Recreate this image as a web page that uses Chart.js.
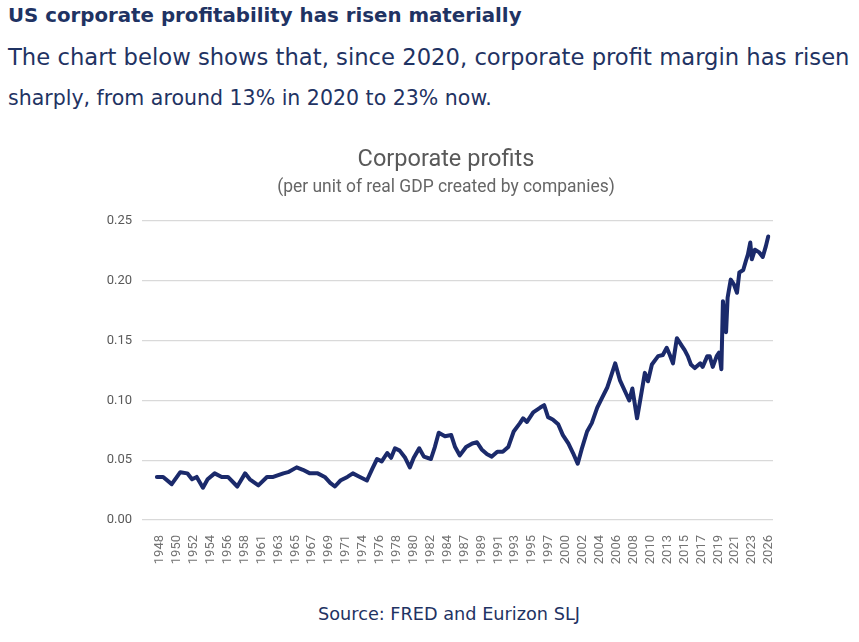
<!DOCTYPE html>
<html>
<head>
<meta charset="utf-8">
<script src="https://cdn.jsdelivr.net/npm/chart.js@4.4.1/dist/chart.umd.min.js"></script>
<style>
  body { margin: 0; background: #fff; width: 859px; height: 642px; overflow: hidden; position: relative; }
  .txt { position: absolute; white-space: nowrap; color: #1f3363; font-family: "DejaVu Sans", sans-serif; line-height: 1; }
  #head { left: 8px; top: 6px; font-size: 19px; font-weight: bold; }
  #line1 { left: 8px; top: 46px; font-size: 20px; }
  #line2 { left: 8px; top: 88px; font-size: 20px; }
  #source { top: 606px; font-size: 15px; }
  #ctitle { top: 147px; font-size: 21px; font-family: Roboto, sans-serif; color: #595959; }
  #csub { top: 178px; font-size: 15px; font-family: Roboto, sans-serif; color: #666666; }
  #box { position: absolute; left: 96px; top: 135px; width: 700px; height: 440px; }
</style>
</head>
<body>
<div class="txt" id="head" data-w="514">US corporate profitability has risen materially</div>
<div class="txt" id="line1" data-w="842">The chart below shows that, since 2020, corporate profit margin has risen</div>
<div class="txt" id="line2" data-w="484">sharply, from around 13% in 2020 to 23% now.</div>
<div id="box"><canvas id="chart"></canvas></div>
<div class="txt" id="ctitle" data-w="177" data-c="446">Corporate profits</div>
<div class="txt" id="csub" data-w="338" data-c="446">(per unit of real GDP created by companies)</div>
<div class="txt" id="source" data-w="262" data-c="449">Source: FRED and Eurizon SLJ</div>
<script>
// values (year, profit per unit of real GDP)
years = [1947.6,1948.4,1949.5,1950.6,1951.5,1952.1,1952.7,1953.5,1954.1,1955.0,1955.9,1956.7,1957.9,1958.9,1959.5,1960.6,
  1961.7,1962.5,1963.8,1964.4,1965.5,1966.3,1967.2,1968.2,1969.1,1969.8,1970.4,1971.1,1972.0,1972.7,1973.6,1974.5,
  1975.2,1975.8,1976.4,1977.1,1977.6,1978.1,1978.7,1979.4,1980.0,1980.5,1981.2,1981.8,1982.7,1983.2,1983.7,1984.5,
  1985.3,1985.8,1986.4,1987.2,1988.0,1988.6,1989.2,1989.9,1990.5,1991.2,1991.9,1992.6,1993.3,1994.1,1994.5,1995.0,
  1995.8,1996.7,1997.2,1997.7,1998.3,1999.0,1999.6,2000.3,2000.9,2001.5,2002.0,2002.7,2003.3,2004.0,2004.6,2005.3,
  2005.8,2006.3,2006.9,2007.6,2008.1,2008.5,2009.1,2009.5,2010.1,2010.5,2011.0,2011.8,2012.4,2012.9,2013.3,2013.7,
  2014.2,2014.9,2015.2,2015.6,2016.0,2016.5,2017.2,2017.5,2018.1,2018.4,2018.8,2019.3,2019.6,2019.9,2020.1,2020.5,
  2020.7,2021.1,2021.5,2021.9,2022.2,2022.7,2023.1,2023.3,2023.6,2023.8,2024.2,2024.7,2025.2,2025.6,2025.9]
margins = [0.036,0.036,0.030,0.040,0.039,0.034,0.036,0.027,0.034,0.039,0.036,0.036,0.028,0.039,0.034,0.029,
  0.036,0.036,0.039,0.040,0.044,0.042,0.039,0.039,0.036,0.031,0.028,0.033,0.036,0.039,0.036,0.033,
  0.043,0.051,0.049,0.056,0.052,0.060,0.058,0.052,0.044,0.052,0.060,0.053,0.051,0.061,0.073,0.070,
  0.071,0.061,0.054,0.061,0.064,0.065,0.059,0.055,0.053,0.057,0.057,0.061,0.074,0.081,0.085,0.082,
  0.090,0.094,0.096,0.086,0.084,0.080,0.071,0.064,0.056,0.047,0.059,0.074,0.081,0.094,0.102,0.111,
  0.121,0.131,0.117,0.107,0.100,0.110,0.085,0.100,0.123,0.116,0.130,0.137,0.138,0.144,0.138,0.131,
  0.152,0.145,0.142,0.137,0.130,0.127,0.131,0.128,0.137,0.137,0.128,0.137,0.140,0.126,0.183,0.157,
  0.186,0.201,0.197,0.190,0.207,0.209,0.218,0.222,0.232,0.218,0.226,0.224,0.220,0.229,0.237]
tickLabels = ['1948','1950','1952','1954','1956','1958','1961','1963','1965','1967','1969','1971','1974',
  '1976','1978','1980','1982','1984','1987','1989','1991','1993','1995','1997','2000','2002','2004',
  '2006','2008','2010','2013','2015','2017','2019','2021','2023','2026']
yTicks = [0, 0.05, 0.10, 0.15, 0.20, 0.25]

// size the texts to the widths of the original
document.querySelectorAll('.txt').forEach(el=>{
    w = el.getBoundingClientRect().width
    fs = parseFloat(getComputedStyle(el).fontSize)
    el.style.fontSize = (fs * el.dataset.w / w) + 'px'
    if (el.dataset.c) el.style.left = (el.dataset.c - el.getBoundingClientRect().width / 2) + 'px'
})

points = years.map((y, i)=>({x: y, y: margins[i]}))
step = (2026 - 1948) / (tickLabels.length - 1)

ctx = document.getElementById('chart').getContext('2d')
chart = new Chart(ctx, {
    type: 'line',
    data: {
        datasets: [{
            data: points,
            borderColor: '#1b2a6b',
            borderWidth: 4,
            pointRadius: 0,
            tension: 0,
            borderJoinStyle: 'round',
            borderCapStyle: 'round'
        }]
    },
    options: {
        responsive: true,
        maintainAspectRatio: false,
        animation: false,
        layout: { padding: { left: 0, right: 23, top: 86, bottom: 0 } },
        plugins: {
            legend: { display: false },
            tooltip: { enabled: false }
        },
        scales: {
            x: {
                type: 'linear',
                min: 1948 - 18 / 7.808,
                max: 2026 + 4 / 7.808,
                grid: { display: false },
                border: { display: false },
                afterBuildTicks: s=>{ s.ticks = tickLabels.map((l, i)=>({value: 1948 + i * step})) },
                afterFit: s=>{ s.height = 55 },
                ticks: {
                    autoSkip: false,
                    minRotation: 90,
                    maxRotation: 90,
                    padding: 7,
                    color: '#737373',
                    font: { family: 'Roboto', size: 13 },
                    callback: (v, i)=>tickLabels[i]
                }
            },
            y: {
                min: 0,
                max: 0.25,
                afterBuildTicks: s=>{ s.ticks = yTicks.map(v=>({value: v})) },
                afterFit: s=>{ s.width = 46 },
                grid: { color: '#d9d9d9', lineWidth: 1.2, drawTicks: false },
                border: { display: false },
                ticks: {
                    padding: 10,
                    color: '#595959',
                    font: { family: 'Roboto', size: 13 },
                    callback: v=>v.toFixed(2)
                }
            }
        }
    }
})
</script>
</body>
</html>
